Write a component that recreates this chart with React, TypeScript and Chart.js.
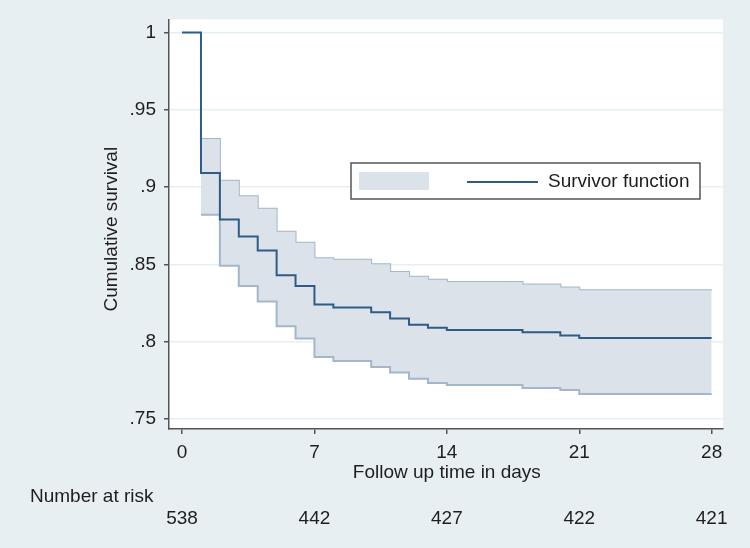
import React, { useEffect, useRef } from "react";
import { Chart, registerables } from "chart.js";

Chart.register(...registerables);

const survTimes = [0, 1, 2, 3, 4, 5, 6, 7, 8, 10, 11, 12, 13, 14, 18, 20, 21, 28];
const survValues = [1, 0.909, 0.879, 0.868, 0.859, 0.843, 0.836, 0.824, 0.822, 0.819, 0.815, 0.811, 0.809, 0.8075, 0.806, 0.804, 0.8023, 0.8023];

const ciTimes = [1, 2, 3, 4, 5, 6, 7, 8, 10, 11, 12, 13, 14, 18, 20, 21, 28];
const ciUpper = [0.931, 0.904, 0.894, 0.886, 0.871, 0.864, 0.854, 0.853, 0.85, 0.845, 0.842, 0.84, 0.8385, 0.837, 0.835, 0.8333, 0.8333];
const ciLower = [0.882, 0.849, 0.836, 0.826, 0.81, 0.802, 0.79, 0.7875, 0.7836, 0.78, 0.776, 0.7733, 0.772, 0.77, 0.7687, 0.7662, 0.7662];

const xTicks = [0, 7, 14, 21, 28];
const yTicks = [0.75, 0.8, 0.85, 0.9, 0.95, 1];
const atRiskTimes = [0, 7, 14, 21, 28];
const atRiskCounts = [538, 442, 427, 422, 421];

const xTitle = "Follow up time in days";
const yTitle = "Cumulative survival";
const atRiskTitle = "Number at risk";
const legendLabel = "Survivor function";

const FONT = "'Liberation Sans', Arial, sans-serif";
const TEXT = "#1e1e1e";
const BG = "#e8eff3";
const BAND_FILL = "#dce2ea";
const BAND_LINE = "#a3b6ca";
const SURV_LINE = "#2f5c86";

const fmtY = (v: number) => (v === 1 ? "1" : String(v).replace(/^0/, ""));

const decorPlugin = {
  id: "decor",
  beforeDraw(chart: any) {
    const { ctx, chartArea } = chart;
    ctx.save();
    ctx.fillStyle = BG;
    ctx.fillRect(0, 0, chart.width, chart.height);
    ctx.fillStyle = "#ffffff";
    ctx.fillRect(chartArea.left, chartArea.top, chartArea.right - chartArea.left, chartArea.bottom - chartArea.top);
    ctx.restore();
  },
  afterDraw(chart: any) {
    const { ctx, chartArea } = chart;
    const xs = chart.scales.x;
    ctx.save();
    ctx.fillStyle = TEXT;
    ctx.font = `19px ${FONT}`;
    // x title
    ctx.textAlign = "center";
    ctx.textBaseline = "middle";
    ctx.fillText(xTitle, xs.getPixelForValue(14), 473);
    // y title
    ctx.save();
    ctx.translate(112, (chartArea.top + chartArea.bottom) / 2 + 5);
    ctx.rotate(-Math.PI / 2);
    ctx.fillText(yTitle, 0, 0);
    ctx.restore();
    // number at risk
    ctx.textAlign = "left";
    ctx.fillText(atRiskTitle, 30, 497);
    ctx.textAlign = "center";
    atRiskTimes.forEach((t, i) => {
      ctx.fillText(String(atRiskCounts[i]), xs.getPixelForValue(t), 519);
    });
    // legend
    const lx = 351, ly = 163, lw = 349, lh = 36;
    ctx.fillStyle = "#ffffff";
    ctx.fillRect(lx, ly, lw, lh);
    ctx.strokeStyle = "#555555";
    ctx.lineWidth = 1.5;
    ctx.strokeRect(lx, ly, lw, lh);
    ctx.fillStyle = BAND_FILL;
    ctx.fillRect(359, 172, 70, 18);
    ctx.strokeStyle = SURV_LINE;
    ctx.lineWidth = 2;
    ctx.beginPath();
    ctx.moveTo(467, 182);
    ctx.lineTo(538, 182);
    ctx.stroke();
    ctx.fillStyle = TEXT;
    ctx.textAlign = "left";
    ctx.fillText(legendLabel, 548, 182);
    ctx.restore();
  },
};

export default function App() {
  const ref = useRef<HTMLCanvasElement | null>(null);
  useEffect(() => {
    if (!ref.current) return;
    const toPts = (xs: number[], ys: number[]) => xs.map((x, i) => ({ x, y: ys[i] }));
    const chart = new Chart(ref.current, {
      type: "line",
      data: {
        datasets: [
          {
            label: "upper",
            data: toPts(ciTimes, ciUpper),
            stepped: "before",
            borderColor: BAND_LINE,
            borderWidth: 2,
            pointRadius: 0,
            fill: false,
            order: 3,
          },
          {
            label: "lower",
            data: toPts(ciTimes, ciLower),
            stepped: "before",
            borderColor: BAND_LINE,
            borderWidth: 2,
            pointRadius: 0,
            backgroundColor: BAND_FILL,
            fill: "-1",
            order: 2,
          },
          {
            label: legendLabel,
            data: toPts(survTimes, survValues),
            stepped: "before",
            borderColor: SURV_LINE,
            borderWidth: 2,
            pointRadius: 0,
            fill: false,
            order: 1,
          },
        ],
      },
      options: {
        responsive: false,
        animation: false,
        layout: { padding: { top: 19, right: 27, left: 0, bottom: 0 } },
        plugins: { legend: { display: false }, tooltip: { enabled: false } },
        scales: {
          x: {
            type: "linear",
            min: -0.69,
            max: 28.6,
            afterBuildTicks: (s: any) => {
              s.ticks = xTicks.map((v) => ({ value: v }));
            },
            afterFit: (s: any) => {
              s.height = 119;
            },
            ticks: {
              font: { size: 19, family: FONT },
              color: TEXT,
              padding: 7,
              maxRotation: 0,
            },
            grid: {
              display: true,
              drawOnChartArea: false,
              color: "#555555",
              tickColor: "#555555",
              tickLength: 5,
              lineWidth: 1.5,
            },
            border: { color: "#555555", width: 1.5 },
          },
          y: {
            type: "linear",
            min: 0.7435,
            max: 1.0084,
            afterBuildTicks: (s: any) => {
              s.ticks = yTicks.map((v) => ({ value: v }));
            },
            afterFit: (s: any) => {
              s.width = 169;
            },
            ticks: {
              font: { size: 19, family: FONT },
              color: TEXT,
              padding: 8,
              callback: (v: any) => fmtY(Number(v)),
            },
            grid: {
              color: "#e6eff2",
              tickColor: "#555555",
              tickLength: 5,
              lineWidth: 1.5,
            },
            border: { color: "#555555", width: 1.5 },
          },
        },
      },
      plugins: [decorPlugin],
    });
    return () => chart.destroy();
  }, []);
  return (
    <div style={{ position: "absolute", left: 0, top: 0, width: 750, height: 548 }}>
      <canvas ref={ref} width={750} height={548} style={{ display: "block" }} />
    </div>
  );
}
